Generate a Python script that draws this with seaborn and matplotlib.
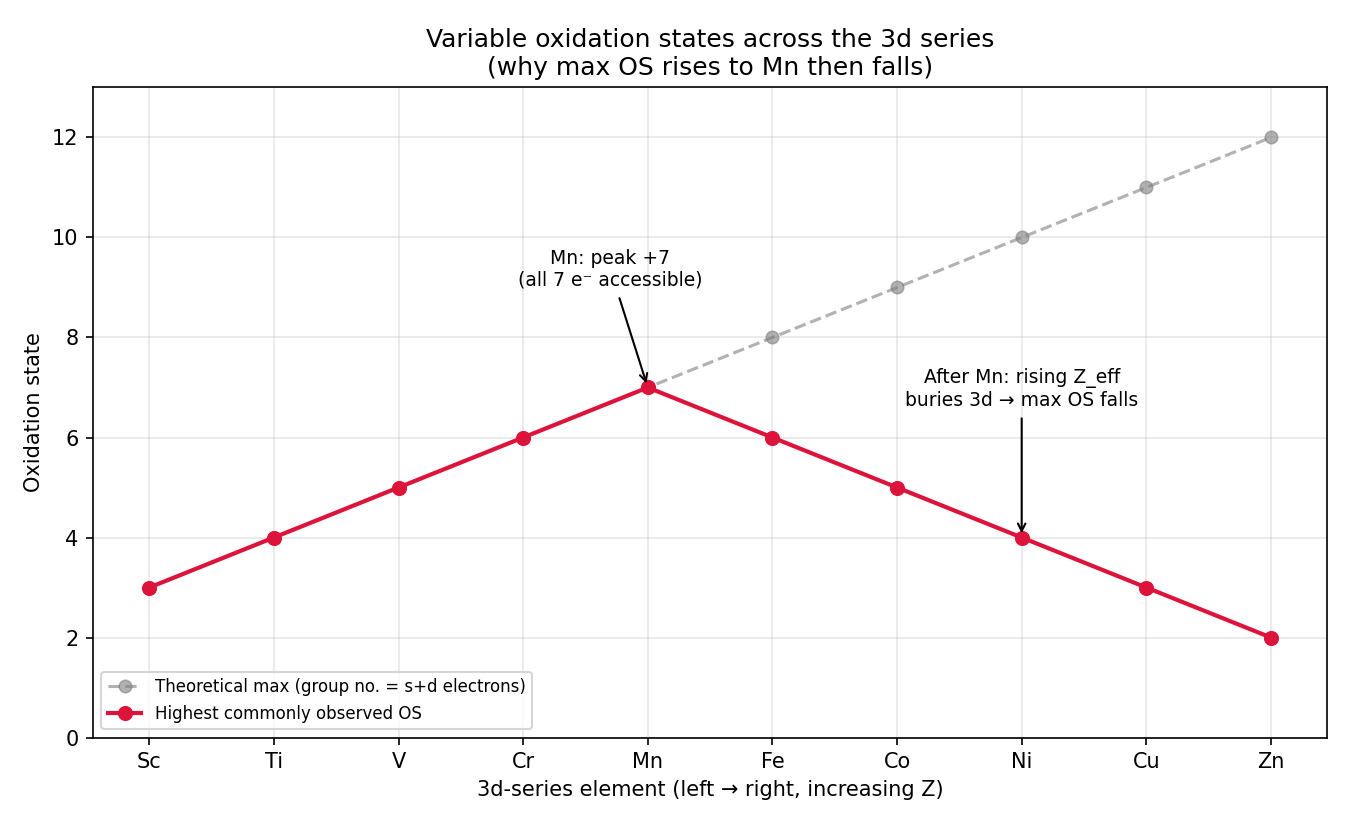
import matplotlib
matplotlib.use("Agg")
import matplotlib.pyplot as plt
import seaborn as sns
import pandas as pd

elements = ["Sc", "Ti", "V", "Cr", "Mn", "Fe", "Co", "Ni", "Cu", "Zn"]
theoretical_max = [3, 4, 5, 6, 7, 8, 9, 10, 11, 12]
observed_max = [3, 4, 5, 6, 7, 6, 5, 4, 3, 2]

df = pd.DataFrame({
    "idx": range(len(elements)),
    "element": elements,
    "theory": theoretical_max,
    "observed": observed_max,
})

fig, ax = plt.subplots(figsize=(9, 5.5), dpi=150)

sns.lineplot(data=df, x="idx", y="theory", ax=ax, color="gray", alpha=0.6,
             linestyle="--", marker="o", markersize=6, linewidth=1.5,
             markeredgecolor="gray",
             label="Theoretical max (group no. = s+d electrons)")
sns.lineplot(data=df, x="idx", y="observed", ax=ax, color="crimson",
             marker="o", markersize=6.5, linewidth=2, markeredgecolor="crimson",
             label="Highest commonly observed OS")

ax.set_xticks(df["idx"])
ax.set_xticklabels(elements)
ax.set_xlim(-0.45, 9.45)
ax.set_ylim(0, 13)
ax.grid(True, alpha=0.3)

ax.annotate("Mn: peak +7\n(all 7 e\u207b accessible)", xy=(4, 7), xytext=(3.7, 8.95),
            ha="center", va="bottom", fontsize=9,
            arrowprops=dict(arrowstyle="->", color="black"))
ax.annotate("After Mn: rising Z_eff\nburies 3d \u2192 max OS falls", xy=(7, 4),
            xytext=(7, 6.55), ha="center", va="bottom", fontsize=9,
            arrowprops=dict(arrowstyle="->", color="black"))

ax.set_xlabel("3d-series element (left \u2192 right, increasing Z)")
ax.set_ylabel("Oxidation state")
ax.set_title("Variable oxidation states across the 3d series\n(why max OS rises to Mn then falls)")
ax.legend(loc="lower left", fontsize=8)

plt.subplots_adjust(left=0.069, right=0.983, top=0.894, bottom=0.106)
plt.savefig("out.png", dpi=150)
